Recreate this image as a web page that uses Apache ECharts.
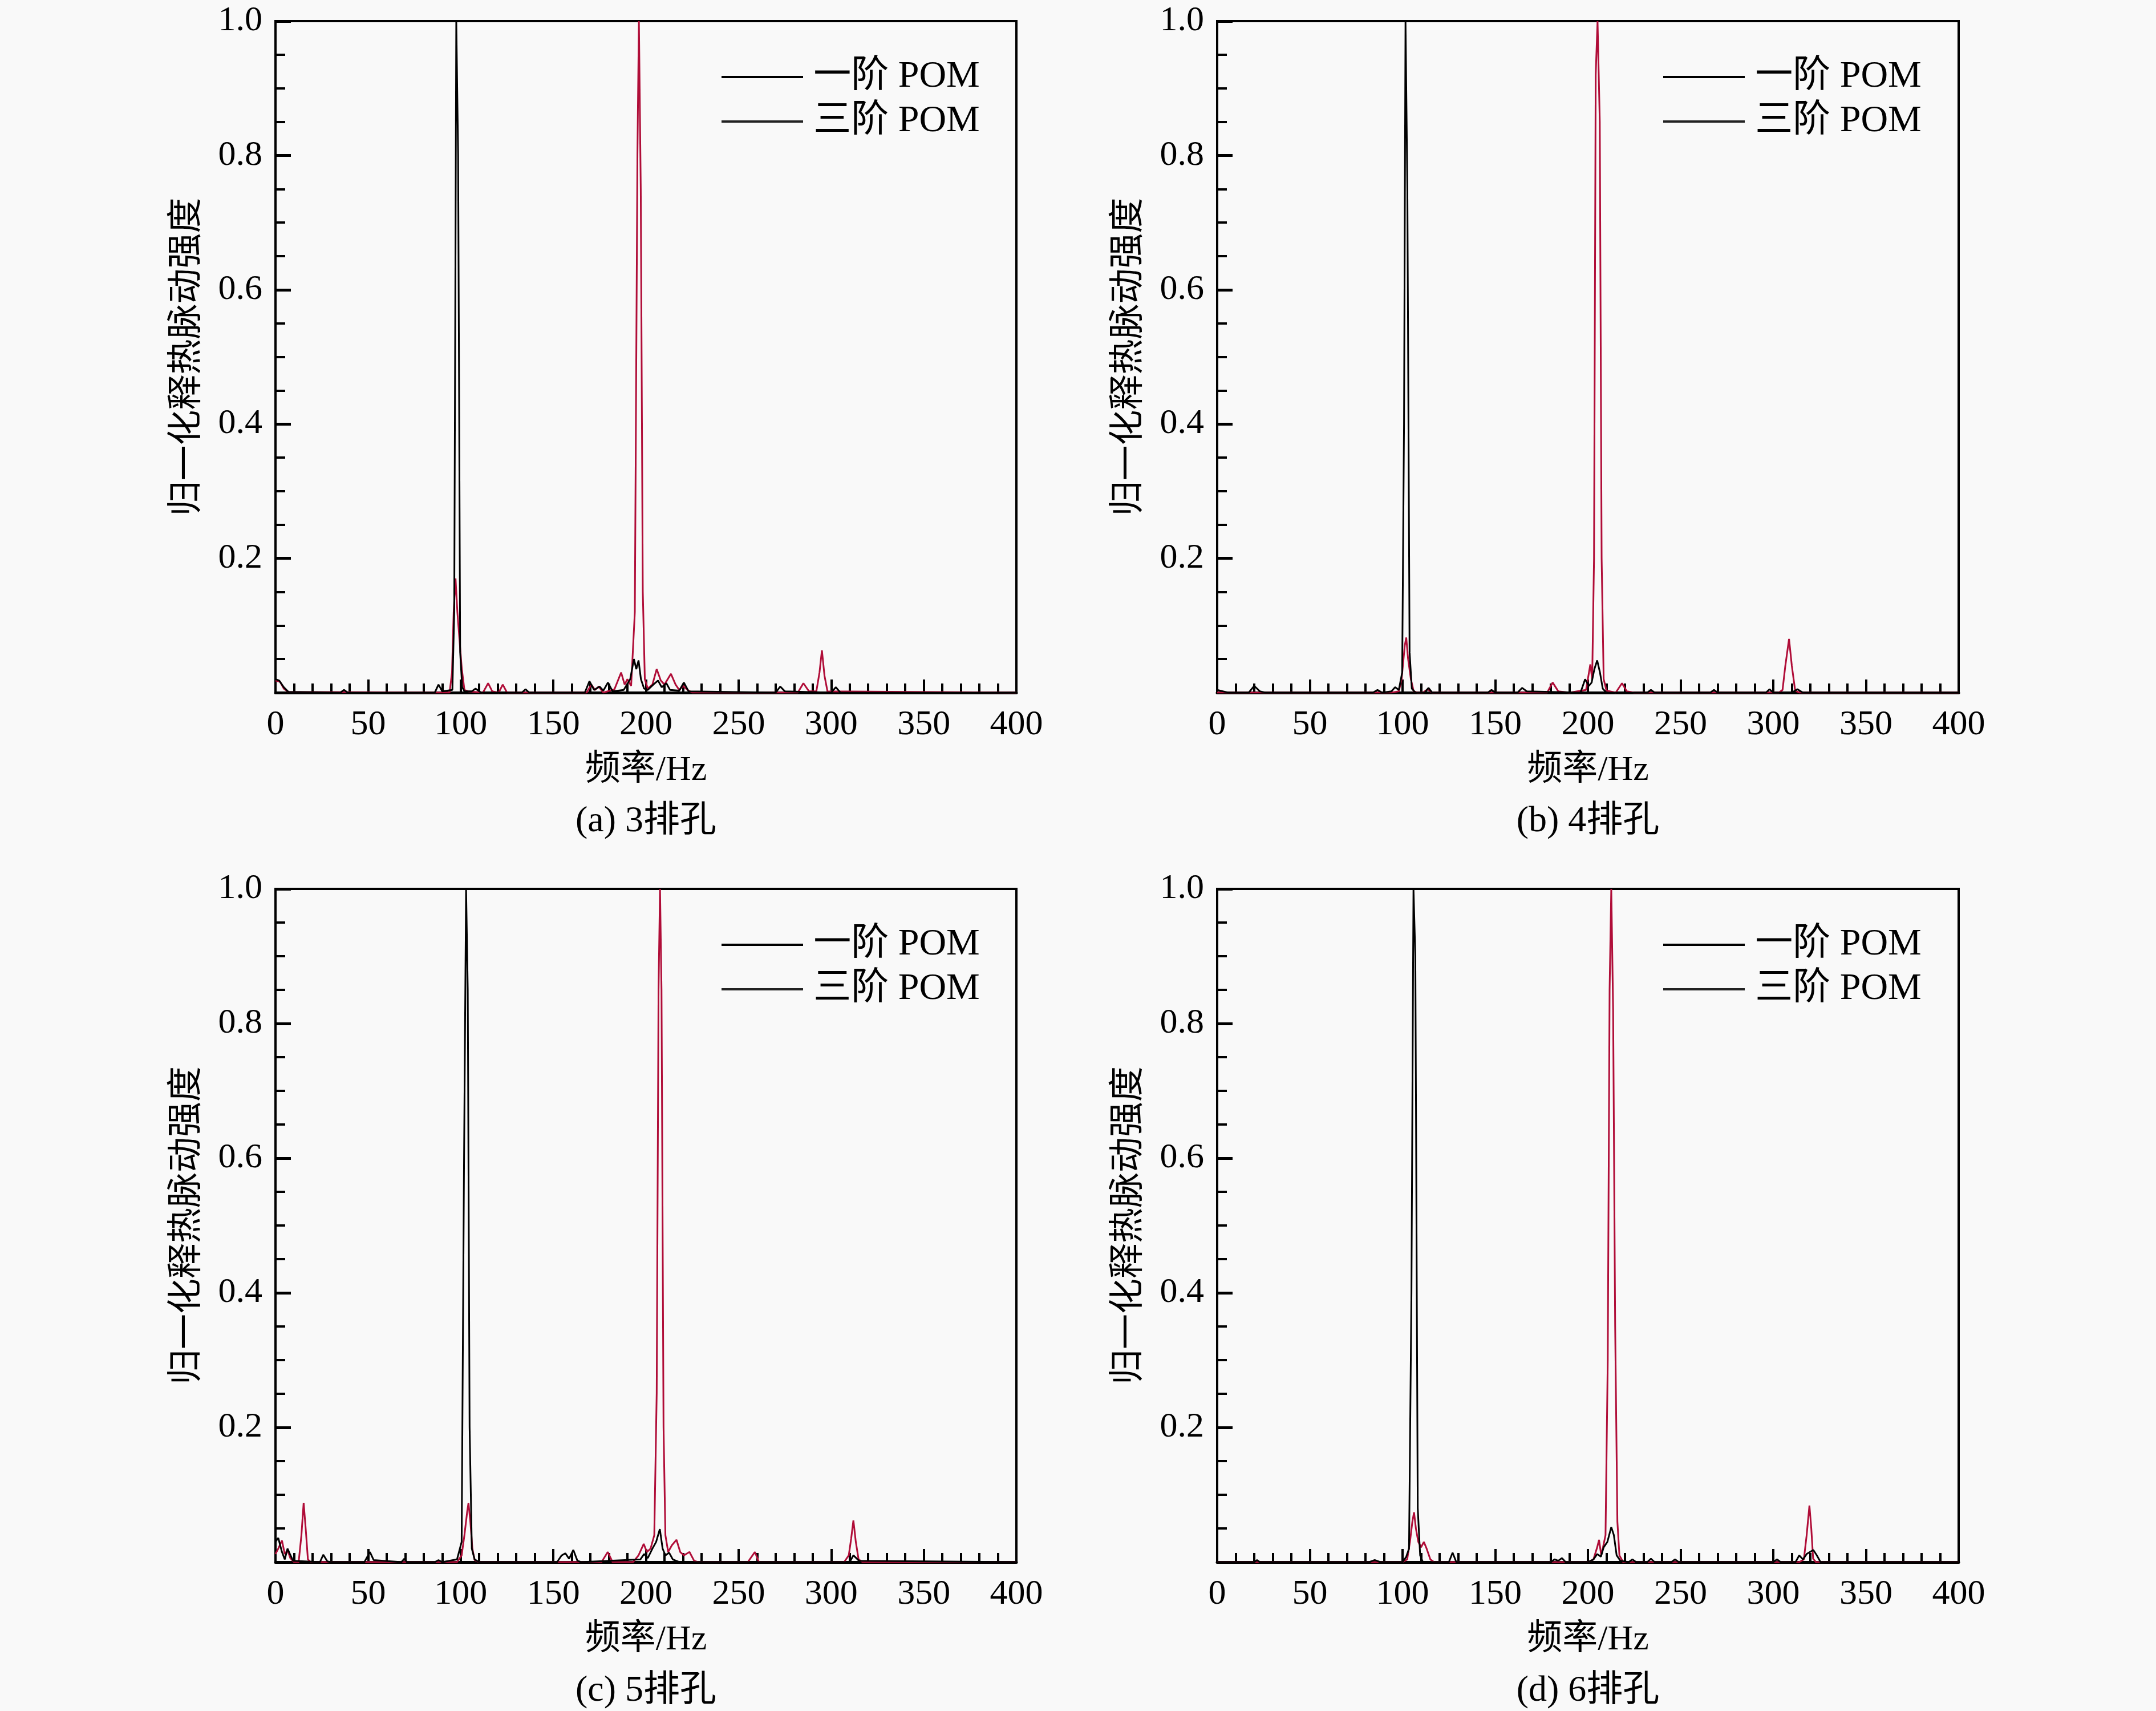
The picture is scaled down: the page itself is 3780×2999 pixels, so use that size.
<!DOCTYPE html>
<html>
  <head>
    <meta charset="UTF-8">
    <title>POM spectra</title>
    <script src="https://cdn.jsdelivr.net/npm/echarts@6/dist/echarts.min.js"></script>
    <style>
      html, body { margin: 0; padding: 0; background: #f9f9f9; }
    </style>
  </head>
  <body>
    <div id="myChart" style="width: 3780px;height:2999px;"></div>
    <script type="text/javascript">
    // 每个子图的两条频谱 [频率Hz, 归一化强度]
    var black_a = [[0,0.02],[2,0.018],[4.5,0.008],[7,0.001],[35,0],[37,0.004],[39,0],[86,0],[88,0.012],[90,0.002],[95.5,0.004],[96.5,0.12],[97.6,1.0],[98.6,0.8],[99.7,0.06],[100.8,0.008],[102,0.002],[106,0.002],[108,0.006],[111,0],[133,0],[135,0.005],[137,0],[167,0],[169.5,0.017],[172,0.004],[175,0.009],[177,0.003],[179.5,0.015],[182,0.002],[188,0.004],[191.5,0.02],[193.5,0.05],[194.8,0.035],[196,0.048],[197.3,0.02],[199,0.006],[201,0.004],[204,0.012],[206.5,0.018],[208.5,0.008],[211,0.014],[213,0.004],[218,0.003],[220.5,0.015],[223,0.002],[270,0],[272.5,0.009],[275,0.002],[300,0],[302.5,0.008],[305,0],[400,0]];
    var red_a = [[0,0.018],[2.5,0.016],[4.5,0.006],[7,0.001],[94,0],[95.3,0.03],[96.2,0.12],[97.2,0.17],[98.2,0.12],[99.3,0.08],[100.6,0.035],[102,0.004],[104,0.002],[112,0],[114.8,0.014],[117,0.002],[120.5,0],[122.7,0.012],[125,0],[168,0],[170.5,0.012],[172.5,0.004],[174.5,0.009],[177,0],[183,0.005],[186.6,0.03],[188.5,0.012],[190,0.02],[192,0.01],[194,0.12],[195.4,0.8],[196.2,1.0],[197.2,0.75],[198.3,0.15],[199.4,0.02],[201,0.006],[203.5,0.012],[205.8,0.035],[208,0.018],[210,0.012],[213.5,0.028],[216,0.012],[218,0.004],[220,0.01],[222.5,0.004],[225,0],[282,0],[285,0.014],[288,0.002],[292,0.002],[293.7,0.03],[295,0.063],[296.4,0.025],[298,0.002],[400,0]];

    var black_b = [[0,0.004],[3,0.002],[6,0],[17,0],[20,0.01],[23,0.002],[26,0],[84,0],[86.5,0.004],[89,0],[94,0.002],[96,0.008],[98,0.004],[99.8,0.03],[100.8,0.4],[101.6,1.0],[102.6,0.75],[103.8,0.06],[105,0.006],[107,0],[112,0],[114,0.007],[116,0],[146,0],[148,0.004],[150,0],[162,0],[164.5,0.007],[167,0.002],[196,0],[198.5,0.02],[200.5,0.01],[202,0.015],[203.5,0.035],[205,0.048],[206.5,0.03],[208,0.006],[210,0],[232,0],[234,0.004],[236,0],[266,0],[268,0.004],[270,0],[296,0],[298,0.005],[300,0],[310,0],[313,0.005],[316,0],[400,0]];
    var red_b = [[0,0],[94,0],[98,0.002],[99.5,0.02],[101.2,0.07],[102,0.082],[103,0.05],[104.5,0.02],[106,0.002],[108,0],[111,0],[113.5,0.005],[116,0],[178,0],[181,0.015],[184,0.002],[190,0],[199,0.004],[201.3,0.042],[202.3,0.02],[203.3,0.2],[204.2,0.92],[205.2,1.0],[206.4,0.85],[207.4,0.2],[208.5,0.02],[210,0.003],[215,0],[218.4,0.014],[221,0.002],[225,0],[303,0],[305,0.004],[306.5,0.04],[308.5,0.08],[310,0.04],[311.8,0.003],[314,0],[400,0]];

    var black_c = [[0,0.03],[1.5,0.036],[3.5,0.015],[5,0.004],[6.5,0.02],[7.8,0.012],[9.5,0.002],[24,0],[25.8,0.011],[28,0.001],[30,0],[48,0],[51,0.015],[53,0.003],[68,0],[69.5,0.005],[71,0],[86,0],[88,0.003],[90,0],[98,0.004],[100.5,0.03],[101.8,0.6],[102.9,1.0],[103.8,0.85],[104.8,0.2],[106,0.02],[107.5,0.004],[110,0],[152,0],[154.5,0.01],[156.5,0.013],[158.5,0.005],[160.8,0.018],[163,0.002],[165,0],[197,0.004],[199,0.012],[201,0.006],[203.5,0.02],[205.5,0.03],[207.5,0.049],[209,0.02],[210.5,0.01],[212.5,0.014],[214.5,0.004],[218,0],[310,0],[312,0.01],[315,0.002],[400,0]];
    var red_c = [[0,0.012],[1.5,0.02],[3.5,0.032],[5,0.012],[6.5,0.018],[8,0.006],[10,0],[12.5,0],[14,0.04],[15.2,0.088],[16.3,0.05],[17.5,0.004],[19,0],[98,0],[100.5,0.01],[102,0.04],[103.5,0.075],[104.2,0.088],[105.2,0.06],[106.3,0.02],[107.5,0.003],[110,0],[176,0],[179.4,0.015],[182,0],[193,0],[196,0.01],[198.8,0.027],[200.5,0.015],[202.5,0.02],[204.5,0.04],[205.8,0.25],[206.8,0.85],[207.6,1.0],[208.4,0.85],[209.5,0.2],[210.5,0.04],[212,0.015],[214,0.025],[216.5,0.033],[218.5,0.015],[220.5,0.01],[223.5,0.015],[226,0.002],[228,0],[255,0],[258.8,0.015],[261,0],[307,0],[309.5,0.01],[310.8,0.035],[312,0.062],[313.3,0.03],[314.8,0.004],[317,0],[400,0]];

    var black_d = [[0,0],[20,0],[21.5,0.003],[23,0],[82,0],[85,0.003],[88,0],[100,0],[102,0.008],[103.5,0.02],[104.8,0.4],[105.9,1.0],[106.9,0.9],[108.2,0.08],[109.5,0.01],[111,0],[125,0],[127,0.014],[129,0],[180,0],[182,0.004],[184,0.002],[186,0.006],[188,0],[200,0],[203,0.004],[205,0.012],[207,0.008],[208.5,0.022],[210.5,0.03],[212.6,0.052],[214,0.04],[215.5,0.01],[217.5,0.002],[222,0],[224,0.004],[226,0],[232,0],[234,0.005],[236,0],[245,0],[247,0.004],[249,0],[300,0],[302,0.004],[304,0],[312,0],[314,0.01],[316,0.004],[318,0.012],[321.6,0.018],[323.5,0.01],[325.5,0],[400,0]];
    var red_d = [[0,0],[100,0],[102.5,0.004],[104,0.03],[105.3,0.06],[106.2,0.074],[107.2,0.05],[108.5,0.03],[110,0.022],[111.5,0.03],[113,0.02],[115,0.004],[117,0],[200,0],[203,0.004],[205,0.022],[206,0.033],[207.2,0.01],[208,0.02],[209.5,0.04],[210.7,0.3],[211.7,0.85],[212.6,1.0],[213.6,0.82],[214.7,0.35],[215.9,0.06],[217,0.01],[219,0],[314,0],[316.5,0.004],[318,0.04],[319.5,0.084],[320.5,0.05],[321.5,0.005],[323,0],[400,0]];

    var captions = ['(a) 3排孔', '(b) 4排孔', '(c) 5排孔', '(d) 6排孔'];
    var seriesNames = ['一阶 POM', '三阶 POM'];
    var xName = '频率/Hz';
    var yName = '归一化释热脉动强度';

    var blacks = [black_a, black_b, black_c, black_d];
    var reds = [red_a, red_b, red_c, red_d];

    var font = '"Liberation Serif", "Noto Sans CJK SC", serif';
    var RED = '#b00d38';
    var boxes = [
        {left: 483, top: 37, width: 1299, height: 1177},
        {left: 2134, top: 37, width: 1300, height: 1177},
        {left: 483, top: 1558, width: 1299, height: 1180},
        {left: 2134, top: 1558, width: 1300, height: 1180}
    ];

    var grids = [], xAxes = [], yAxes = [], series = [], legends = [], graphics = [];
    boxes.forEach(function (b, i) {
        grids.push({
            left: b.left, top: b.top, width: b.width, height: b.height,
            show: true, borderColor: '#000', borderWidth: 4, backgroundColor: 'transparent'
        });
        xAxes.push({
            gridIndex: i, type: 'value', min: 0, max: 400, interval: 50,
            name: xName, nameLocation: 'middle', nameGap: 106,
            nameTextStyle: {fontFamily: font, fontSize: 62, color: '#000'},
            axisLine: {lineStyle: {color: '#000', width: 5}},
            axisTick: {inside: true, length: 23, lineStyle: {color: '#000', width: 4}},
            minorTick: {show: true, splitNumber: 5, length: 16, lineStyle: {color: '#000', width: 4}},
            splitLine: {show: false},
            axisLabel: {fontFamily: font, fontSize: 62, color: '#000', margin: 26}
        });
        yAxes.push({
            gridIndex: i, type: 'value', min: 0, max: 1, interval: 0.2,
            name: yName, nameLocation: 'middle', nameGap: 122,
            nameTextStyle: {fontFamily: font, fontSize: 62, color: '#000'},
            axisLine: {lineStyle: {color: '#000', width: 4}},
            axisTick: {inside: true, length: 27, lineStyle: {color: '#000', width: 5}},
            minorTick: {show: true, splitNumber: 4, length: 17, lineStyle: {color: '#000', width: 4}},
            splitLine: {show: false},
            axisLabel: {
                fontFamily: font, fontSize: 62, color: '#000', margin: 23,
                formatter: function (v) { return v === 0 ? '' : v.toFixed(1); }
            }
        });
        series.push({
            name: seriesNames[0], type: 'line', xAxisIndex: i, yAxisIndex: i,
            data: blacks[i], symbol: 'none', z: 3,
            lineStyle: {color: '#000', width: 3}, itemStyle: {color: '#000'}
        });
        series.push({
            name: seriesNames[1], type: 'line', xAxisIndex: i, yAxisIndex: i,
            data: reds[i], symbol: 'none', z: 2,
            lineStyle: {color: RED, width: 3}, itemStyle: {color: RED}
        });
        legends.push({
            id: 'lg' + i,
            orient: 'vertical', left: b.left + 777, top: b.top + 60,
            icon: 'rect', itemWidth: 143, itemHeight: 4, itemGap: 12,
            formatter: '\u2009{name}',
            textStyle: {fontFamily: font, fontSize: 66, color: '#000'},
            data: [
                {name: seriesNames[0], itemStyle: {color: '#000'}},
                {name: seriesNames[1], itemStyle: {color: '#222'}}
            ]
        });
        graphics.push({
            type: 'text', x: b.left + b.width / 2, y: b.top + b.height + 226,
            style: {
                text: captions[i], font: '64px ' + font, fill: '#000',
                align: 'center', verticalAlign: 'middle',
                textAlign: 'center', textVerticalAlign: 'middle'
            }
        });
    });

    var myChart = echarts.init(document.getElementById('myChart'));
    myChart.setOption({
        backgroundColor: '#f9f9f9',
        animation: false,
        grid: grids,
        xAxis: xAxes,
        yAxis: yAxes,
        legend: legends,
        series: series,
        graphic: graphics
    });
    </script>
  </body>
</html>
